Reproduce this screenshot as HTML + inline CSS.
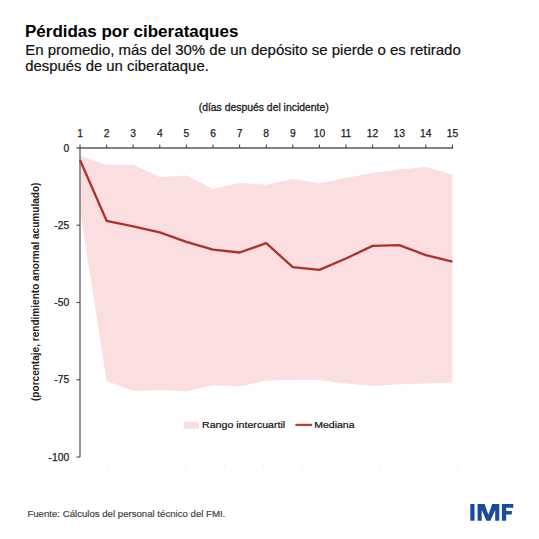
<!DOCTYPE html>
<html><head><meta charset="utf-8"><style>
html,body{margin:0;padding:0;background:#fff;}
svg{display:block;}
text{font-family:"Liberation Sans",sans-serif;}
</style></head><body>
<svg width="539" height="539" viewBox="0 0 539 539">
<rect width="539" height="539" fill="#fff"/>
<text x="25" y="36.8" font-size="16.8" font-weight="bold" fill="#000" textLength="213.4" lengthAdjust="spacingAndGlyphs">Pérdidas por ciberataques</text>
<text x="25.3" y="55.2" font-size="15" fill="#111" stroke="#111" stroke-width="0.2" textLength="435.5" lengthAdjust="spacingAndGlyphs">En promedio, más del 30% de un depósito se pierde o es retirado</text>
<text x="25.3" y="70.6" font-size="15" fill="#111" stroke="#111" stroke-width="0.2" textLength="183.5" lengthAdjust="spacingAndGlyphs">después de un ciberataque.</text>
<text x="198.7" y="111.2" font-size="10.4" fill="#222" stroke="#222" stroke-width="0.3" textLength="130" lengthAdjust="spacingAndGlyphs">(días después del incidente)</text>
<polygon points="80.0,156 106.6,164.7 133.2,164.7 159.8,177 186.4,175.5 213.0,189 239.6,183 266.2,184.7 292.8,178.9 319.4,183.6 346.0,178 372.6,173 399.2,169.6 425.8,167 452.4,174.4 452.4,382.4 425.8,383.6 399.2,384.2 372.6,385.9 346.0,383.4 319.4,380 292.8,380 266.2,380.6 239.6,386.4 213.0,385 186.4,391.2 159.8,390 133.2,390.9 106.6,380.8 80.0,210" fill="#FADEE0"/>
<g fill="none">
<line x1="80" y1="147.5" x2="80" y2="457" stroke="#8a8a8a" stroke-width="1.8"/>
<line x1="76.5" y1="147.9" x2="453.2" y2="147.9" stroke="#5a5a5a" stroke-width="1.5"/>
<g stroke="#4a4a4a" stroke-width="1.1"><line x1="80.0" y1="144.5" x2="80.0" y2="148"/><line x1="106.6" y1="144.5" x2="106.6" y2="148"/><line x1="133.2" y1="144.5" x2="133.2" y2="148"/><line x1="159.8" y1="144.5" x2="159.8" y2="148"/><line x1="186.4" y1="144.5" x2="186.4" y2="148"/><line x1="213.0" y1="144.5" x2="213.0" y2="148"/><line x1="239.6" y1="144.5" x2="239.6" y2="148"/><line x1="266.2" y1="144.5" x2="266.2" y2="148"/><line x1="292.8" y1="144.5" x2="292.8" y2="148"/><line x1="319.4" y1="144.5" x2="319.4" y2="148"/><line x1="346.0" y1="144.5" x2="346.0" y2="148"/><line x1="372.6" y1="144.5" x2="372.6" y2="148"/><line x1="399.2" y1="144.5" x2="399.2" y2="148"/><line x1="425.8" y1="144.5" x2="425.8" y2="148"/><line x1="452.4" y1="144.5" x2="452.4" y2="148"/><line x1="76.5" y1="225.2" x2="80" y2="225.2"/><line x1="76.5" y1="302.5" x2="80" y2="302.5"/><line x1="76.5" y1="379.8" x2="80" y2="379.8"/><line x1="76.5" y1="457.0" x2="80" y2="457.0"/></g>
</g>
<polyline points="80.0,160 106.6,220.8 133.2,226.3 159.8,232.3 186.4,241.8 213.0,249.7 239.6,252.5 266.2,243.2 292.8,267.1 319.4,269.9 346.0,258.5 372.6,245.9 399.2,245.2 425.8,255.1 452.4,261.6" fill="none" stroke="#B0302A" stroke-width="2.3" stroke-linejoin="round"/>
<g font-size="10.3" fill="#222" stroke="#222" stroke-width="0.25" text-anchor="middle"><text x="80.0" y="137">1</text><text x="106.6" y="137">2</text><text x="133.2" y="137">3</text><text x="159.8" y="137">4</text><text x="186.4" y="137">5</text><text x="213.0" y="137">6</text><text x="239.6" y="137">7</text><text x="266.2" y="137">8</text><text x="292.8" y="137">9</text><text x="319.4" y="137">10</text><text x="346.0" y="137">11</text><text x="372.6" y="137">12</text><text x="399.2" y="137">13</text><text x="425.8" y="137">14</text><text x="452.4" y="137">15</text></g>
<g font-size="10.3" fill="#222" stroke="#222" stroke-width="0.25" text-anchor="end"><text x="69.2" y="151.7">0</text><text x="69.2" y="228.9">-25</text><text x="69.2" y="306.2">-50</text><text x="69.2" y="383.4">-75</text><text x="69.2" y="460.7">-100</text></g>
<text transform="translate(39.0,401.0) rotate(-90)" font-size="10" font-weight="bold" fill="#222" textLength="218.4" lengthAdjust="spacingAndGlyphs">(porcentaje, rendimiento anormal acumulado)</text>
<rect x="68.7" y="465.4" width="1.2" height="1.2" fill="#e2e2e2"/><rect x="107.5" y="465.4" width="1.2" height="1.2" fill="#e2e2e2"/><rect x="146.3" y="465.4" width="1.2" height="1.2" fill="#e2e2e2"/><rect x="185.2" y="465.4" width="1.2" height="1.2" fill="#e2e2e2"/><rect x="224.0" y="465.4" width="1.2" height="1.2" fill="#e2e2e2"/><rect x="262.8" y="465.4" width="1.2" height="1.2" fill="#e2e2e2"/><rect x="301.6" y="465.4" width="1.2" height="1.2" fill="#e2e2e2"/><rect x="340.4" y="465.4" width="1.2" height="1.2" fill="#e2e2e2"/><rect x="379.3" y="465.4" width="1.2" height="1.2" fill="#e2e2e2"/><rect x="418.1" y="465.4" width="1.2" height="1.2" fill="#e2e2e2"/><rect x="456.9" y="465.4" width="1.2" height="1.2" fill="#e2e2e2"/>
<rect x="183.7" y="421.7" width="15.2" height="7" fill="#FADEE0"/>
<text x="202" y="427.9" font-size="9.4" fill="#111" stroke="#111" stroke-width="0.2" textLength="83.2" lengthAdjust="spacingAndGlyphs">Rango intercuartil</text>
<line x1="295.4" y1="424.9" x2="312.1" y2="424.9" stroke="#BC3A32" stroke-width="2.2"/>
<text x="314.2" y="427.9" font-size="9.4" fill="#111" stroke="#111" stroke-width="0.2" textLength="40.4" lengthAdjust="spacingAndGlyphs">Mediana</text>
<text x="27.4" y="516.9" font-size="8.4" fill="#404040" stroke="#404040" stroke-width="0.15" textLength="197.9" lengthAdjust="spacingAndGlyphs">Fuente: Cálculos del personal técnico del FMI.</text>
<g fill="#184C9B"><rect x="470.3" y="504" width="4.2" height="16.7"/>
<polygon points="477.6,520.7 477.6,504 484.6,504 488.4,514.8 492.2,504 499.3,504 499.3,520.7 495.2,520.7 495.2,510 490.4,520.7 486.4,520.7 481.7,510 481.7,520.7"/>
<polygon points="501.9,520.7 501.9,504 513.3,504 513.3,507.7 506.2,507.7 506.2,511.1 511.8,511.1 511.8,514.5 506.2,514.5 506.2,520.7"/></g>
</svg>
</body></html>
